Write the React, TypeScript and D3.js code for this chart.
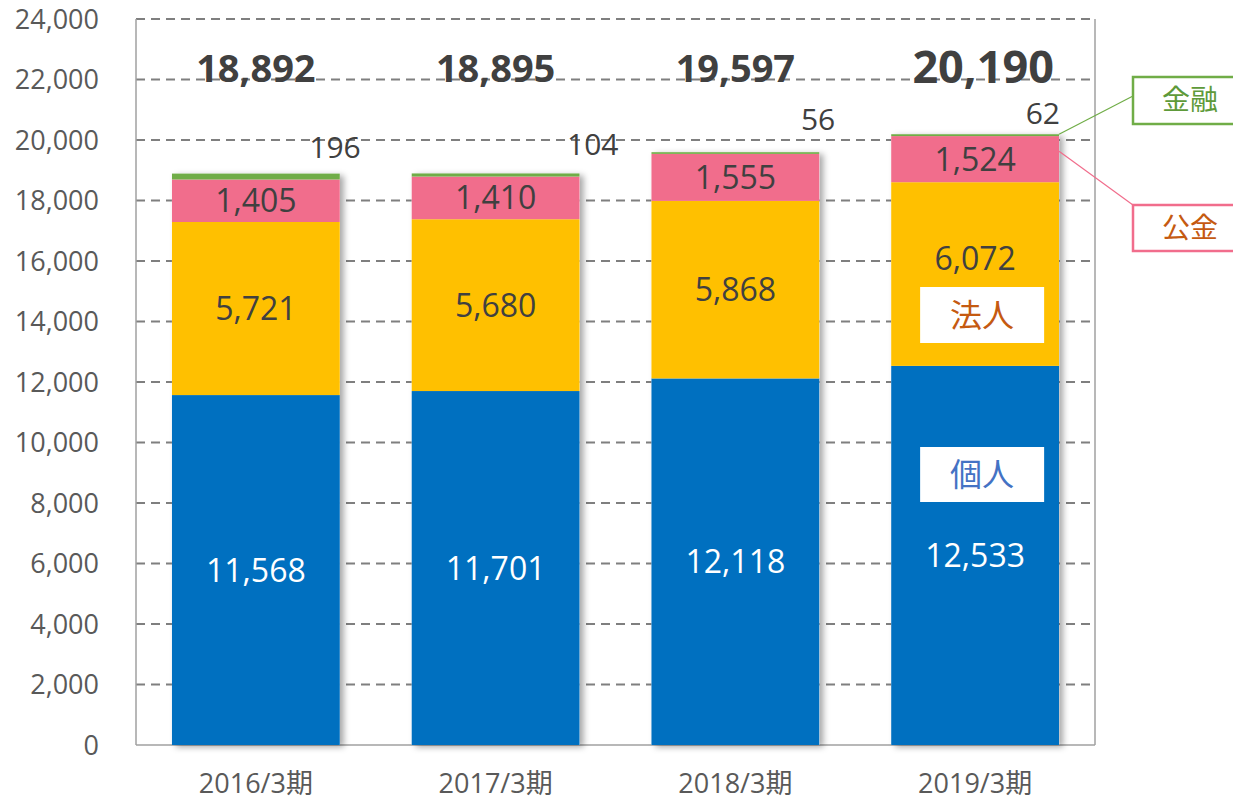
import React from "react";
import * as d3 from "d3";

const categories = ["2016/3期", "2017/3期", "2018/3期", "2019/3期"];
const kojin = [11568, 11701, 12118, 12533];
const hojin = [5721, 5680, 5868, 6072];
const kokin = [1405, 1410, 1555, 1524];
const kinyu = [196, 104, 56, 62];
const totals = [18892, 18895, 19597, 20190];
const yTicks = [0, 2000, 4000, 6000, 8000, 10000, 12000, 14000, 16000, 18000, 20000, 22000, 24000];

const seriesKeys = ["個人", "法人", "公金", "金融"];
const seriesValues = [kojin, hojin, kokin, kinyu];
const colors = ["#0070C0", "#FFC000", "#F16D8C", "#70AD47"];

// small-label (金融) offsets relative to bar top-right corner
const smallDx = [21, 39, 16, 1];
const smallDy = [16, 18, 22, 10];

const W = 1233, H = 803;
const L = 136, R = 1095, T = 19, B = 745;
const FONT = "'Open Sans', 'Noto Sans CJK JP', sans-serif";
const CJK = "'Noto Sans CJK JP', sans-serif";

export default function App() {
  const x = d3.scaleBand<string>().domain(categories).range([L, R]).paddingInner(0.3).paddingOuter(0.15);
  const y = d3.scaleLinear().domain([0, 24000]).range([B, T]);
  const fmt = d3.format(",");

  const table = categories.map((c, i) => {
    const row: any = { cat: c };
    seriesKeys.forEach((k, j) => (row[k] = seriesValues[j][i]));
    return row;
  });
  const stacked = d3.stack().keys(seriesKeys)(table);
  const bw = x.bandwidth();

  return (
    <svg width={W} height={H} style={{ position: "absolute", left: 0, top: 0, background: "#fff" }} fontFamily={FONT}>
      <defs>
        <filter id="sh" x="-10%" y="-10%" width="130%" height="130%">
          <feDropShadow dx="4" dy="2" stdDeviation="3" floodColor="#000" floodOpacity="0.35" />
        </filter>
      </defs>
      {/* gridlines */}
      {yTicks.filter((t) => t > 0).map((t) => (
        <line key={t} x1={L} x2={R} y1={y(t)} y2={y(t)} stroke="#7F7F7F" strokeWidth={2} strokeDasharray="9,6" />
      ))}
      {/* axis frame */}
      <line x1={L} x2={L} y1={T} y2={B} stroke="#A0A0A0" strokeWidth={1.5} />
      <line x1={R} x2={R} y1={T} y2={B} stroke="#A0A0A0" strokeWidth={1.5} />
      <line x1={L} x2={R} y1={B} y2={B} stroke="#A0A0A0" strokeWidth={1.5} />
      {/* y tick labels */}
      {yTicks.map((t) => (
        <text key={t} x={99} y={y(t)} dy="0.36em" textAnchor="end" fontSize={27} fill="#595959">
          {fmt(t)}
        </text>
      ))}
      {/* x labels */}
      {categories.map((c) => (
        <text key={c} x={(x(c) as number) + bw / 2} y={793} textAnchor="middle" fontSize={27} fill="#595959">
          {c}
        </text>
      ))}
      {/* bars with shadow */}
      {categories.map((c, i) => {
        const top = stacked[stacked.length - 1][i][1];
        return (
          <rect key={"s" + c} x={x(c)} y={y(top)} width={bw} height={B - y(top)} fill="#fff" filter="url(#sh)" />
        );
      })}
      {stacked.map((s, j) => (
        <g key={s.key}>
          {s.map((d, i) => (
            <rect key={i} x={x(categories[i])} y={y(d[1])} width={bw} height={y(d[0]) - y(d[1])} fill={colors[j]} />
          ))}
        </g>
      ))}
      {/* segment labels */}
      {stacked.slice(0, 3).map((s, j) => (
        <g key={"l" + s.key}>
          {s.map((d, i) => {
            const cy = (y(d[0]) + y(d[1])) / 2 + (j === 1 && i === 3 ? -16 : 0);
            return (
              <text key={i} x={(x(categories[i]) as number) + bw / 2} y={cy} dy="0.36em" textAnchor="middle" fontSize={32} fill={j === 0 ? "#fff" : "#404040"}>
                {fmt(seriesValues[j][i])}
              </text>
            );
          })}
        </g>
      ))}
      {/* 金融 small labels */}
      {stacked[3].map((d, i) => (
        <text key={"k" + i} x={(x(categories[i]) as number) + bw + smallDx[i]} y={y(d[1]) - smallDy[i]} textAnchor="end" fontSize={30} fill="#404040">
          {fmt(kinyu[i])}
        </text>
      ))}
      {/* totals */}
      {totals.map((t, i) => (
        <text key={"t" + i} x={(x(categories[i]) as number) + bw / 2 + (i === 3 ? 8 : 0)} y={i === 3 ? 83 : 82} textAnchor="middle" fontSize={i === 3 ? 45 : 38} fontWeight="bold" fill="#404040">
          {fmt(t)}
        </text>
      ))}
      {/* in-bar boxes */}
      {(() => {
        const bx = (x(categories[3]) as number) + bw / 2;
        return (
          <g>
            <rect x={bx - 55} y={287} width={124} height={56} fill="#fff" />
            <text x={bx + 7} y={315} dy="0.36em" textAnchor="middle" fontSize={32} fill="#C55A11" fontFamily={CJK}>法人</text>
            <rect x={bx - 55} y={447} width={124} height={55} fill="#fff" />
            <text x={bx + 7} y={474} dy="0.36em" textAnchor="middle" fontSize={32} fill="#4472C4" fontFamily={CJK}>個人</text>
          </g>
        );
      })()}
      {/* callouts */}
      {(() => {
        const rx = (x(categories[3]) as number) + bw;
        const yk = y(stacked[3][3][1]);
        const yp = (y(stacked[2][3][0]) + y(stacked[2][3][1])) / 2 - 8;
        return (
          <g>
            <line x1={rx} y1={yk} x2={1133} y2={96} stroke="#70AD47" strokeWidth={1.2} />
            <rect x={1133} y={77} width={120} height={47} fill="#fff" stroke="#70AD47" strokeWidth={2.5} />
            <text x={1190} y={100} dy="0.36em" textAnchor="middle" fontSize={28} fill="#5E9A3A" fontFamily={CJK}>金融</text>
            <line x1={rx} y1={yp} x2={1133} y2={205} stroke="#F16D8C" strokeWidth={1.2} />
            <rect x={1133} y={205} width={120} height={46} fill="#fff" stroke="#F16D8C" strokeWidth={2.5} />
            <text x={1190} y={228} dy="0.36em" textAnchor="middle" fontSize={28} fill="#C55A11" fontFamily={CJK}>公金</text>
          </g>
        );
      })()}
    </svg>
  );
}
